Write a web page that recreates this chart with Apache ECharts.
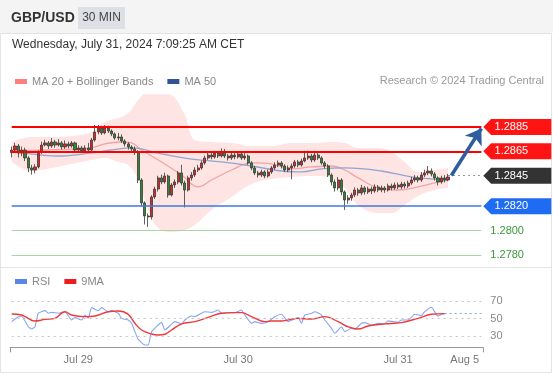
<!DOCTYPE html>
<html><head><meta charset="utf-8">
<script src="https://cdn.jsdelivr.net/npm/echarts@6.0.0/dist/echarts.min.js"></script>
<style>html,body{margin:0;padding:0;background:#fff}#c{width:553px;height:375px}</style>
</head><body><div id="c"></div><script>
// ---- candles (30 min GBP/USD) ----
const openP = [1.28640,1.28661,1.28694,1.28637,1.28661,1.28596,1.28514,1.28497,1.28522,1.28645,
1.28702,1.28719,1.28694,1.28727,1.28702,1.28719,1.28686,1.28711,1.28694,1.28719,
1.28661,1.28678,1.28653,1.28678,1.28661,1.28743,1.28809,1.28842,1.28801,1.28842,
1.28817,1.28793,1.28760,1.28768,1.28735,1.28711,1.28686,1.28670,1.28645,1.28415,
1.28227,1.28120,1.28112,1.28276,1.28341,1.28432,1.28399,1.28448,1.28292,1.28374,
1.28399,1.28473,1.28390,1.28333,1.28432,1.28456,1.28497,1.28514,1.28555,1.28596,
1.28620,1.28604,1.28637,1.28612,1.28645,1.28612,1.28596,1.28620,1.28604,1.28629,
1.28596,1.28612,1.28555,1.28514,1.28473,1.28456,1.28481,1.28448,1.28481,1.28514,
1.28538,1.28555,1.28530,1.28497,1.28514,1.28530,1.28563,1.28538,1.28571,1.28596,
1.28612,1.28579,1.28620,1.28596,1.28555,1.28530,1.28456,1.28399,1.28350,1.28415,
1.28317,1.28251,1.28268,1.28292,1.28333,1.28308,1.28350,1.28317,1.28341,1.28325,
1.28358,1.28333,1.28350,1.28333,1.28366,1.28350,1.28374,1.28358,1.28382,1.28366,
1.28390,1.28415,1.28432,1.28415,1.28456,1.28473,1.28489,1.28464,1.28432,1.28399,
1.28432,1.28415];
const closeP = [1.28661,1.28694,1.28637,1.28661,1.28596,1.28514,1.28497,1.28522,1.28645,1.28702,
1.28719,1.28694,1.28727,1.28702,1.28719,1.28686,1.28711,1.28694,1.28719,1.28661,
1.28678,1.28653,1.28678,1.28661,1.28743,1.28809,1.28842,1.28801,1.28842,1.28817,
1.28793,1.28760,1.28768,1.28735,1.28711,1.28686,1.28670,1.28645,1.28415,1.28227,
1.28120,1.28112,1.28276,1.28341,1.28432,1.28399,1.28448,1.28292,1.28374,1.28399,
1.28473,1.28390,1.28333,1.28432,1.28456,1.28497,1.28514,1.28555,1.28596,1.28620,
1.28604,1.28637,1.28612,1.28645,1.28612,1.28596,1.28620,1.28604,1.28629,1.28596,
1.28612,1.28555,1.28514,1.28473,1.28456,1.28481,1.28448,1.28481,1.28514,1.28538,
1.28555,1.28530,1.28497,1.28514,1.28530,1.28563,1.28538,1.28571,1.28596,1.28612,
1.28579,1.28620,1.28596,1.28555,1.28530,1.28456,1.28399,1.28350,1.28415,1.28317,
1.28251,1.28268,1.28292,1.28333,1.28308,1.28350,1.28317,1.28341,1.28325,1.28358,
1.28333,1.28350,1.28333,1.28366,1.28350,1.28374,1.28358,1.28382,1.28366,1.28390,
1.28415,1.28432,1.28415,1.28456,1.28473,1.28489,1.28464,1.28432,1.28399,1.28432,
1.28415,1.28440];
const highP = [1.28690,1.28720,1.28710,1.28690,1.28680,1.28610,1.28540,1.28545,1.28660,1.28730,
1.28745,1.28735,1.28760,1.28745,1.28750,1.28735,1.28740,1.28730,1.28735,1.28730,
1.28700,1.28695,1.28700,1.28720,1.28760,1.28866,1.28866,1.28860,1.28866,1.28860,
1.28830,1.28805,1.28800,1.28790,1.28750,1.28725,1.28700,1.28690,1.28660,1.28430,
1.28240,1.28140,1.28290,1.28360,1.28450,1.28460,1.28475,1.28460,1.28390,1.28420,
1.28490,1.28540,1.28410,1.28450,1.28480,1.28520,1.28540,1.28575,1.28615,1.28640,
1.28635,1.28655,1.28650,1.28675,1.28670,1.28630,1.28640,1.28640,1.28650,1.28645,
1.28635,1.28625,1.28570,1.28530,1.28490,1.28500,1.28495,1.28500,1.28530,1.28560,
1.28575,1.28570,1.28545,1.28535,1.28550,1.28580,1.28580,1.28590,1.28655,1.28655,
1.28630,1.28655,1.28640,1.28610,1.28570,1.28545,1.28470,1.28420,1.28440,1.28430,
1.28330,1.28290,1.28310,1.28355,1.28350,1.28375,1.28365,1.28360,1.28360,1.28380,
1.28375,1.28370,1.28365,1.28385,1.28385,1.28395,1.28395,1.28400,1.28400,1.28410,
1.28440,1.28455,1.28450,1.28480,1.28500,1.28530,1.28510,1.28480,1.28445,1.28450,
1.28455,1.28465];
const lowP = [1.28600,1.28640,1.28600,1.28610,1.28570,1.28480,1.28460,1.28470,1.28510,1.28630,
1.28690,1.28670,1.28680,1.28680,1.28690,1.28665,1.28670,1.28675,1.28680,1.28640,
1.28640,1.28635,1.28640,1.28650,1.28650,1.28730,1.28790,1.28785,1.28790,1.28800,
1.28775,1.28745,1.28740,1.28720,1.28690,1.28665,1.28650,1.28620,1.28390,1.28200,
1.28050,1.28030,1.28090,1.28260,1.28320,1.28380,1.28385,1.28270,1.28280,1.28350,
1.28380,1.28370,1.28190,1.28320,1.28410,1.28440,1.28480,1.28500,1.28540,1.28580,
1.28585,1.28590,1.28595,1.28600,1.28595,1.28575,1.28580,1.28585,1.28590,1.28580,
1.28580,1.28540,1.28495,1.28455,1.28435,1.28440,1.28430,1.28435,1.28465,1.28500,
1.28520,1.28510,1.28480,1.28480,1.28420,1.28515,1.28520,1.28525,1.28560,1.28580,
1.28560,1.28565,1.28580,1.28540,1.28510,1.28440,1.28370,1.28320,1.28330,1.28290,
1.28170,1.28220,1.28245,1.28275,1.28285,1.28290,1.28295,1.28300,1.28300,1.28310,
1.28315,1.28315,1.28310,1.28320,1.28330,1.28335,1.28340,1.28340,1.28345,1.28350,
1.28375,1.28400,1.28395,1.28400,1.28440,1.28455,1.28445,1.28410,1.28370,1.28385,
1.28395,1.28405];

// ---- indicators read at sample candles ----
const bbIdx   = [0,6,12,18,24,28,32,35,38,41,44,48,52,55,60,66,72,78,84,90,96,100,104,110,114,118,122,127,131];
const bbUpper = [1.28727,1.28768,1.28768,1.28776,1.28809,1.28891,1.28924,1.28965,1.29072,1.29137,1.29137,1.29112,1.28948,1.28743,1.28727,1.28719,1.28694,1.28694,1.28719,1.28719,1.28727,1.28719,1.28678,1.28678,1.28645,1.28563,1.28481,1.28497,1.28514];
const bbLower = [1.28563,1.28489,1.28514,1.28547,1.28579,1.28596,1.28563,1.28538,1.28415,1.28169,1.28022,1.27989,1.28005,1.28046,1.28169,1.28276,1.28382,1.28423,1.28440,1.28448,1.28432,1.28350,1.28210,1.28144,1.28144,1.28210,1.28284,1.28333,1.28350];
const ma20Idx = [0,10,20,24,28,33,36,39,45,51,56,60,66,72,78,84,90,96,100,104,110,116,122,127,131];
const ma20Val = [1.28653,1.28661,1.28670,1.28678,1.28711,1.28727,1.28719,1.28661,1.28563,1.28456,1.28358,1.28415,1.28497,1.28555,1.28547,1.28506,1.28522,1.28530,1.28497,1.28432,1.28350,1.28333,1.28358,1.28391,1.28415];
const ma50Idx = [0,9,15,24,30,36,45,54,63,72,81,87,93,100,111,120,131];
const ma50Val = [1.28645,1.28620,1.28612,1.28637,1.28661,1.28678,1.28629,1.28587,1.28563,1.28530,1.28489,1.28481,1.28506,1.28514,1.28489,1.28440,1.28415];

const rsiIdx = [0,2,3,5,6,7,8,10,11,12,14,16,18,19,21,22,23,24,26,27,29,30,32,33,35,36,37,38,40,41,42,44,45,46,48,49,51,52,54,55,57,58,60,62,63,65,67,69,70,72,73,75,77,79,81,83,86,87,88,90,91,93,94,96,97,99,100,102,103,105,106,108,110,112,113,116,117,119,121,123,124,126,128,129,130];
const rsiVal = [46.4,52,52.6,40.6,38,40.6,56,59,56,57,56,57.8,48.3,51,48.3,54,50.4,62.4,59,62.4,57.8,59,56,50.2,48.3,44.5,35,26.2,19.7,19.7,35,42.6,45.6,36.9,43.6,46.4,43.9,48.3,52.9,52.2,56,57.8,57,59.7,56,56.7,56.7,59.7,54,44.5,46.4,44.5,46.4,52,54.8,46.4,51,44.5,54,56,57.8,54,48.3,38.8,33.1,40.6,35,38.8,37.7,44.5,45.3,42.6,44.5,43.9,47.3,45.6,48.3,48.3,54.8,53.3,57.8,62.8,52.6,54.9,55.6];
const ma9Idx = [0,3,4,7,10,13,16,18,22,25,29,32,35,37,39,42,44,46,48,51,55,59,63,67,69,72,76,78,81,86,90,94,98,101,104,107,112,117,122,126,130];
const ma9Val = [55.1,54,52.2,47.1,49,50.2,57.8,54,52.2,52.9,57.8,58.5,54.8,44.5,36.9,32.3,31.2,32,36.9,43.9,46.4,51.3,56,56.7,56.7,52.2,46.4,47.1,47.1,50.2,49.4,52.2,46.4,40.6,38,41.5,43.9,45.3,50.2,54.8,55.6];

// ---- levels and axis labels ----
const resistances = [1.2885, 1.2865];
const lastPrice = 1.2845;
const pivot = 1.2820;
const supports = [1.2800, 1.2780];
const rsiLevels = [70, 50, 30];
const tickIdx = [20, 68, 116, 136];
const tickText = ['Jul 29', 'Jul 30', 'Jul 31', 'Aug 5'];
const slotCount = 142;

const FONT = "'Liberation Sans', Arial, sans-serif";
const cats = [];
for (let i = 0; i < slotCount; i++) cats.push('s' + i);
const labelMap = {};
tickIdx.forEach((t, k) => labelMap['s' + t] = tickText[k]);

const candles = openP.map((o, i) => [o, closeP[i], lowP[i], highP[i]]);
const pair = (idx, val) => idx.map((x, k) => [x, val[k]]);
const lastIdx = closeP.length - 1;
const endIdx = slotCount - 1;

const boxPath = 'path://M0,8 L8,0 L70,0 L70,16 L8,16 Z';
function box(v, color) {
  return { name: v.toFixed(4), coord: [endIdx, v], symbol: boxPath, symbolSize: [68, 16],
    symbolKeepAspect: false, symbolOffset: [36, 0], itemStyle: { color: color },
    label: { show: true, position: 'inside', offset: [-6, 0], formatter: '{b}', color: '#fff', fontSize: 11, fontFamily: FONT } };
}
function hline(v, color, width, lbl) {
  const s = { name: v.toFixed(4), coord: [0, v], lineStyle: { color: color, width: width, type: 'solid' } };
  if (lbl) s.label = { show: true, position: 'end', distance: 9, formatter: '{b}', color: lbl, fontSize: 11, fontFamily: FONT };
  return [ s, { coord: [endIdx, v], lineStyle: { color: color, width: width, type: 'solid' } } ];
}

const chart = echarts.init(document.getElementById('c'), null, { renderer: 'canvas' });
chart.setOption({
  animation: false,
  backgroundColor: '#fff',
  textStyle: { fontFamily: FONT },
  graphic: [
    { type: 'rect', shape: { x: 0, y: 0, width: 553, height: 33 }, style: { fill: '#f4f4f4' }, z: -10 },
    { type: 'rect', shape: { x: 0.5, y: 33.5, width: 551, height: 339 }, style: { fill: 'none', stroke: '#e3e3e3', lineWidth: 1 }, z: -10 },
    { type: 'line', shape: { x1: 0, y1: 267.5, x2: 551, y2: 267.5 }, style: { stroke: '#e3e3e3', lineWidth: 1 }, z: -10 },
    { type: 'text', x: 11, y: 18, style: { text: 'GBP/USD', font: 'bold 14px ' + FONT, fill: '#333', verticalAlign: 'middle', textVerticalAlign: 'middle' } },
    { type: 'rect', shape: { x: 78, y: 7, width: 47, height: 22 }, style: { fill: '#dde1e6' } },
    { type: 'text', x: 101.5, y: 18, style: { text: '30 MIN', font: '12px ' + FONT, fill: '#444', align: 'center', textAlign: 'center', verticalAlign: 'middle', textVerticalAlign: 'middle' } },
    { type: 'text', x: 12, y: 45, style: { text: 'Wednesday, July 31, 2024 7:09:25 AM CET', font: '12px ' + FONT, fill: '#333', verticalAlign: 'middle', textVerticalAlign: 'middle' } },
    { type: 'text', x: 544, y: 81, style: { text: 'Research \u00A9 2024 Trading Central', font: '11px ' + FONT, fill: '#999', align: 'right', textAlign: 'right', verticalAlign: 'middle', textVerticalAlign: 'middle' } }
  ],
  legend: [
    { left: 10, top: 76, itemWidth: 12, itemHeight: 5, itemGap: 14, icon: 'rect', padding: [0, 5],
      textStyle: { color: '#888', fontSize: 11, fontFamily: FONT },
      data: [{ name: 'MA 20 + Bollinger Bands', itemStyle: { color: '#ff7f7f' } }, { name: 'MA 50', itemStyle: { color: '#2f5597' } }] },
    { left: 10, top: 276, itemWidth: 12, itemHeight: 5, itemGap: 14, icon: 'rect', padding: [0, 5],
      textStyle: { color: '#888', fontSize: 11, fontFamily: FONT },
      data: [{ name: 'RSI', itemStyle: { color: '#5b86e5' } }, { name: '9MA', itemStyle: { color: '#ee1c1c' } }] }
  ],
  grid: [
    { left: 10, width: 473, top: 95.3, height: 169.4 },
    { left: 10, width: 473, top: 283.5, height: 63.9 }
  ],
  xAxis: [
    { type: 'category', gridIndex: 0, data: cats, boundaryGap: true, show: false },
    { type: 'category', gridIndex: 1, data: cats, boundaryGap: true,
      axisLine: { show: true, lineStyle: { color: '#999', width: 1 } },
      axisTick: { show: true, interval: (i) => i === 0, length: 5, lineStyle: { color: '#999' } },
      axisLabel: { interval: 0, color: '#777', fontSize: 11, margin: 7, fontFamily: FONT, formatter: (v) => labelMap[v] || '' } }
  ],
  yAxis: [
    { type: 'value', gridIndex: 0, min: 1.2772, max: 1.2911, show: false },
    { type: 'value', gridIndex: 1, min: 17, max: 90, show: false }
  ],
  series: [
    { name: 'bbLow', type: 'line', xAxisIndex: 0, yAxisIndex: 0, stack: 'bb', smooth: 0.4, symbol: 'none',
      lineStyle: { opacity: 0 }, data: pair(bbIdx, bbLower), z: 1, silent: true },
    { name: 'bbBand', type: 'line', xAxisIndex: 0, yAxisIndex: 0, stack: 'bb', smooth: 0.4, symbol: 'none',
      lineStyle: { opacity: 0 }, areaStyle: { color: 'rgba(255,120,120,0.2)', opacity: 1 },
      data: bbIdx.map((x, k) => [x, bbUpper[k] - bbLower[k]]), z: 1, silent: true },
    { name: 'MA 20 + Bollinger Bands', type: 'line', xAxisIndex: 0, yAxisIndex: 0, smooth: 0.4, symbol: 'none',
      lineStyle: { color: '#f4a2a2', width: 1.3 }, itemStyle: { color: '#ff7f7f' }, data: pair(ma20Idx, ma20Val), z: 2 },
    { name: 'MA 50', type: 'line', xAxisIndex: 0, yAxisIndex: 0, smooth: 0.4, symbol: 'none',
      lineStyle: { color: '#8ea6d2', width: 1.3 }, itemStyle: { color: '#2f5597' }, data: pair(ma50Idx, ma50Val), z: 2 },
    { name: 'GBP/USD', type: 'candlestick', xAxisIndex: 0, yAxisIndex: 0, barWidth: 2.6, z: 3,
      itemStyle: { color: '#e3231f', color0: '#2b8a2b', borderColor: '#3a3a3a', borderColor0: '#3a3a3a', borderWidth: 0.8 },
      data: candles },
    { name: 'levels', type: 'line', xAxisIndex: 0, yAxisIndex: 0, symbol: 'none', z: 5,
      lineStyle: { opacity: 0 }, data: [[lastIdx, closeP[lastIdx]]], silent: true,
      markLine: {
        silent: true, symbol: 'none', animation: false,
        label: { show: false },
        data: [
          hline(resistances[0], '#ff0000', 2),
          hline(resistances[1], '#ff0000', 2),
          hline(pivot, '#3d78e3', 1.5),
          hline(supports[0], '#a6d6a6', 1, '#3a9a3a'),
          hline(supports[1], '#a6d6a6', 1, '#3a9a3a'),
          [ { coord: [lastIdx, lastPrice], lineStyle: { color: '#999', width: 1, type: [2, 3] } }, { coord: [endIdx, lastPrice] } ],
          [ { coord: [lastIdx + 1, closeP[lastIdx] + 0.00012], symbol: 'none', lineStyle: { color: '#2f5c9e', width: 3.5, type: 'solid' } },
            { coord: [endIdx, resistances[0] - 0.00012], symbol: 'arrow', symbolSize: 15 } ]
        ]
      },
      markPoint: {
        silent: true,
        data: [ box(resistances[0], '#ff1414'), box(resistances[1], '#ff1414'), box(lastPrice, '#333333'), box(pivot, '#1f6cf2') ]
      }
    },
    { name: 'RSI', type: 'line', xAxisIndex: 1, yAxisIndex: 1, symbol: 'none', smooth: 0.15,
      lineStyle: { color: '#86a6f2', width: 1.1 }, itemStyle: { color: '#5b86e5' }, data: pair(rsiIdx, rsiVal), z: 3,
      markLine: {
        silent: true, symbol: 'none', animation: false,
        data: rsiLevels.map(v => [ { name: String(v), coord: [0, v], lineStyle: { color: '#c4c4c4', width: 1, type: [2, 4] },
          label: { show: true, position: 'end', distance: 9, formatter: '{b}', color: '#888', fontSize: 11, fontFamily: FONT } },
          { coord: [endIdx, v] } ])
          .concat([[ { coord: [lastIdx - 1, rsiVal[rsiVal.length - 1]], lineStyle: { color: '#86a6f2', width: 1, type: [2, 3] }, label: { show: false } },
                     { coord: [endIdx, rsiVal[rsiVal.length - 1]] } ]])
      }
    },
    { name: '9MA', type: 'line', xAxisIndex: 1, yAxisIndex: 1, symbol: 'none', smooth: 0.4,
      lineStyle: { color: '#f03a3a', width: 1.4 }, itemStyle: { color: '#ee1c1c' }, data: pair(ma9Idx, ma9Val), z: 4 }
  ]
});
</script></body></html>
